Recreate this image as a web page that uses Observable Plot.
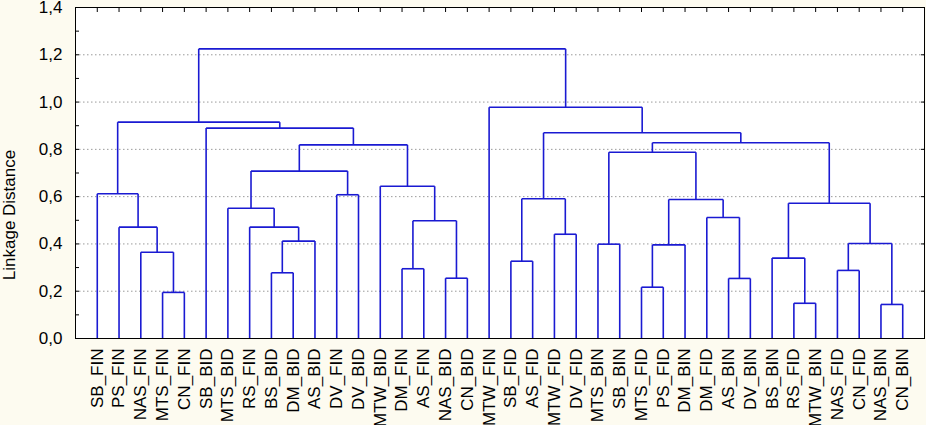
<!DOCTYPE html>
<html><head><meta charset="utf-8">
<script src="https://cdn.jsdelivr.net/npm/d3@7"></script>
<script src="https://cdn.jsdelivr.net/npm/@observablehq/plot@0.6"></script>
<style>
html,body{margin:0;padding:0;background:#fdfbf0;}
#chart svg{display:block;}
</style></head><body><div id="chart"></div>
<script>
// Leaf labels in dendrogram order
const leaves = [
  "SB_FIN","PS_FIN","NAS_FIN","MTS_FIN","CN_FIN","SB_BID","MTS_BID","RS_FIN","BS_BID","DM_BID",
  "AS_BID","DV_FIN","DV_BID","MTW_BID","DM_FIN","AS_FIN","NAS_BID","CN_BID","MTW_FIN","SB_FID",
  "AS_FID","MTW_FID","DV_FID","MTS_BIN","SB_BIN","MTS_FID","PS_FID","DM_BIN","DM_FID","AS_BIN",
  "DV_BIN","BS_BIN","RS_FID","MTW_BIN","NAS_FID","CN_FID","NAS_BIN","CN_BIN"
];
// Linkage: [childA, childB, distance]; ids < 38 are leaves, id 38+k is merge k
const merges = [
  [36, 37, 0.144], [32, 33, 0.149], [3, 4, 0.195], [25, 26, 0.217], [29, 30, 0.254],
  [16, 17, 0.255], [8, 9, 0.278], [34, 35, 0.288], [14, 15, 0.295], [19, 20, 0.327],
  [31, 39, 0.340], [2, 40, 0.365], [41, 27, 0.396], [23, 24, 0.399], [45, 38, 0.402],
  [44, 10, 0.412], [21, 22, 0.441], [1, 49, 0.471], [7, 53, 0.471], [46, 43, 0.498],
  [28, 42, 0.512], [6, 56, 0.551], [48, 52, 0.572], [50, 58, 0.588], [47, 54, 0.591],
  [11, 12, 0.608], [0, 55, 0.612], [13, 57, 0.644], [59, 63, 0.708], [51, 61, 0.788],
  [66, 65, 0.819], [67, 60, 0.828], [62, 69, 0.870], [5, 68, 0.890], [64, 71, 0.915],
  [18, 70, 0.978], [72, 73, 1.225]
];
const yTicks = [0, 0.2, 0.4, 0.6, 0.8, 1.0, 1.2, 1.4];
const yMinorTicks = [0.1, 0.3, 0.5, 0.7, 0.9, 1.1, 1.3];
const gridValues = [0.2, 0.4, 0.6, 0.8, 1.0, 1.2];
const yLabel = "Linkage Distance";

// Build dendrogram segments from the linkage
const n = leaves.length;
const leafIdx = d3.range(n);
const nodeX = leafIdx.slice();
const nodeH = leafIdx.map(() => 0);
const segments = [];
for (const [a, b, h] of merges) {
  const xa = nodeX[a], xb = nodeX[b];
  segments.push({x1: xa, y1: nodeH[a], x2: xa, y2: h});
  segments.push({x1: xb, y1: nodeH[b], x2: xb, y2: h});
  segments.push({x1: xa, y1: h, x2: xb, y2: h});
  nodeX.push((xa + xb) / 2);
  nodeH.push(h);
}
const fmt = d => d.toFixed(1).replace(".", ",");
const blank = () => "";

const chart = Plot.plot({
  width: 926, height: 425,
  marginLeft: 75, marginRight: 2, marginTop: 7, marginBottom: 87,
  style: {fontFamily: "'Liberation Sans', Arial, sans-serif", background: "transparent", fontSize: "17px", color: "black"},
  x: {type: "linear", domain: [-1, n], axis: null},
  y: {domain: [0, 1.4], axis: null},
  marks: [
    Plot.frame({fill: "white", stroke: null}),
    Plot.gridY(gridValues, {stroke: "#9a9a9a", strokeOpacity: 1, strokeDasharray: "1.5,2.5"}),
    Plot.link(segments, {x1: "x1", y1: "y1", x2: "x2", y2: "y2", stroke: "#1a1ad2", strokeWidth: 1.6}),
    Plot.frame({stroke: "black", strokeWidth: 1}),
    Plot.axisY({anchor: "left", ticks: yTicks, tickSize: 0, tickPadding: 13, tickFormat: fmt, label: null, fontSize: 17}),
    Plot.text([yLabel], {frameAnchor: "left", dx: -73, dy: 42, rotate: -90, lineAnchor: "top",
      textAnchor: "middle", fontSize: 17, fill: "black"}),
    Plot.axisY({anchor: "left", ticks: yTicks.concat(yMinorTicks), tickSize: -4, tickFormat: blank, label: null}),
    Plot.axisY({anchor: "right", ticks: yTicks, tickSize: -4, tickFormat: blank, label: null}),
    Plot.axisX({anchor: "top", ticks: leafIdx, tickSize: -4, tickFormat: blank, label: null}),
    Plot.axisX({anchor: "bottom", ticks: leafIdx, tickSize: 0, tickPadding: 10, tickRotate: -90,
      tickFormat: i => leaves[i], label: null, fontSize: 17})
  ]
});
document.getElementById("chart").appendChild(chart);
</script>
</body></html>
